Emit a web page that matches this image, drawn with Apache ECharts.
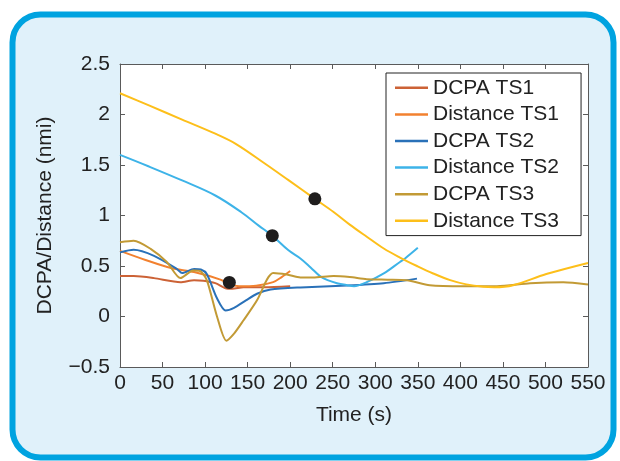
<!DOCTYPE html>
<html>
<head>
<meta charset="utf-8">
<script src="https://cdn.jsdelivr.net/npm/echarts@6/dist/echarts.min.js"></script>
<style>
html,body{margin:0;padding:0;background:#ffffff;}
#chart{width:620px;height:461px;}
</style>
</head>
<body>
<div id="chart"></div>
<script>
// ---- data (time s, value nmi) ----
const seriesNames = ['DCPA TS1','Distance TS1','DCPA TS2','Distance TS2','DCPA TS3','Distance TS3'];
const dcpaTS1 = [[0,0.40],[16,0.40],[40,0.38],[71,0.34],[87,0.36],[98,0.355],[112,0.33],[124,0.28],[132,0.275],[145,0.29],[170,0.29],[200,0.30]];
const distTS1 = [[0,0.65],[30,0.56],[60,0.48],[87,0.44],[118,0.365],[128,0.32],[140,0.30],[160,0.305],[180,0.34],[190,0.39],[200,0.45]];
const dcpaTS2 = [[0,0.635],[16,0.66],[40,0.60],[67,0.47],[73,0.43],[87,0.47],[95,0.465],[102,0.42],[114,0.18],[124,0.06],[134,0.086],[148,0.16],[161,0.225],[177,0.267],[212,0.288],[267,0.307],[310,0.33],[349,0.375]];
const distTS2 = [[0,1.60],[34,1.485],[73,1.347],[112,1.198],[143,1.03],[163,0.90],[179,0.80],[198,0.655],[212,0.575],[224,0.486],[235,0.40],[244,0.36],[255,0.33],[267,0.31],[275,0.30],[290,0.34],[310,0.426],[329,0.54],[335,0.575],[350,0.68]];
const dcpaTS3 = [[0,0.735],[16,0.75],[36,0.67],[55,0.54],[71,0.38],[86,0.455],[94,0.45],[102,0.36],[114,0.0],[125,-0.24],[134,-0.17],[145,-0.04],[161,0.16],[173,0.37],[180,0.43],[196,0.415],[212,0.387],[227,0.385],[251,0.40],[270,0.39],[290,0.37],[314,0.365],[337,0.36],[364,0.31],[404,0.30],[443,0.30],[482,0.33],[521,0.34],[550,0.317]];
const distTS3 = [[0,2.21],[34,2.09],[73,1.95],[112,1.81],[136,1.71],[171,1.51],[198,1.35],[229,1.165],[251,1.035],[270,0.91],[290,0.79],[310,0.673],[329,0.584],[349,0.50],[368,0.426],[388,0.36],[407,0.318],[427,0.294],[440,0.29],[462,0.31],[501,0.42],[550,0.53]];
const markerPoints = [[128.5,0.337],[179,0.80],[229,1.165]];

const colors = ['#cc6236','#f2812f','#2a71b8','#3db3e8','#c29a35','#fdbf1a'];
const lineData = [dcpaTS1, distTS1, dcpaTS2, distTS2, dcpaTS3, distTS3];
const smoothVals = [0.25,0.3,0.25,0.35,0.25,0.35];

const FONT = '"Liberation Sans", Arial, Helvetica, sans-serif';
const FS = 21;
const chart = echarts.init(document.getElementById('chart'), null, {renderer:'canvas'});

const series = lineData.map((d,i)=>({
  name: seriesNames[i], type:'line', data:d, smooth:smoothVals[i],
  showSymbol:false, symbol:'none',
  lineStyle:{color:colors[i], width:2}, itemStyle:{color:colors[i]},
  xAxisIndex:0, yAxisIndex:0, z:3
}));
series.push({
  name:'markers', type:'scatter', data:markerPoints, symbolSize:13,
  itemStyle:{color:'#1f1d1d', opacity:1}, xAxisIndex:0, yAxisIndex:0, z:5
});

const axisCommon = {
  axisLine:{show:true, onZero:false, lineStyle:{color:'#5a5a5a', width:1}},
  axisTick:{show:true, inside:true, length:5, lineStyle:{color:'#5a5a5a'}},
  splitLine:{show:false}
};

chart.setOption({
  animation:false,
  backgroundColor:'#ffffff',
  graphic:[{
    type:'rect', z:-10, silent:true,
    shape:{x:12.5, y:14.5, width:601, height:443, r:28},
    style:{fill:'#e0f1fa', stroke:'#00a3e0', lineWidth:6}
  }],
  grid:{left:120, top:64, right:32, bottom:94, show:true, backgroundColor:'#ffffff', borderWidth:0},
  legend:{
    data:seriesNames, orient:'vertical', left:386, top:73,
    icon:'rect', itemWidth:33, itemHeight:2.5, itemGap:5,
    padding:[4,22,4,9],
    borderColor:'#222222', borderWidth:1, backgroundColor:'#ffffff',
    textStyle:{fontFamily:FONT, fontSize:FS, color:'#222222', lineHeight:21.6}
  },
  xAxis:[
    Object.assign({type:'value', min:0, max:550, interval:50, position:'bottom',
      name:'Time (s)', nameLocation:'middle', nameGap:38,
      nameTextStyle:{fontFamily:FONT, fontSize:FS, color:'#222222'},
      axisLabel:{fontFamily:FONT, fontSize:FS, color:'#222222', margin:6}}, axisCommon),
    Object.assign({type:'value', min:0, max:550, interval:50, position:'top',
      axisLabel:{show:false}}, axisCommon)
  ],
  yAxis:[
    Object.assign({type:'value', min:-0.5, max:2.5, interval:0.5, position:'left',
      name:'DCPA/Distance (nmi)', nameLocation:'middle', nameGap:64, nameRotate:90,
      nameTextStyle:{fontFamily:FONT, fontSize:FS, color:'#222222'},
      axisLabel:{fontFamily:FONT, fontSize:FS, color:'#222222', margin:10,
        formatter:function(v){return String(v).replace('-','\u2212');}}}, axisCommon),
    Object.assign({type:'value', min:-0.5, max:2.5, interval:0.5, position:'right',
      axisLabel:{show:false}}, axisCommon)
  ],
  series:series
});
</script>
</body>
</html>
